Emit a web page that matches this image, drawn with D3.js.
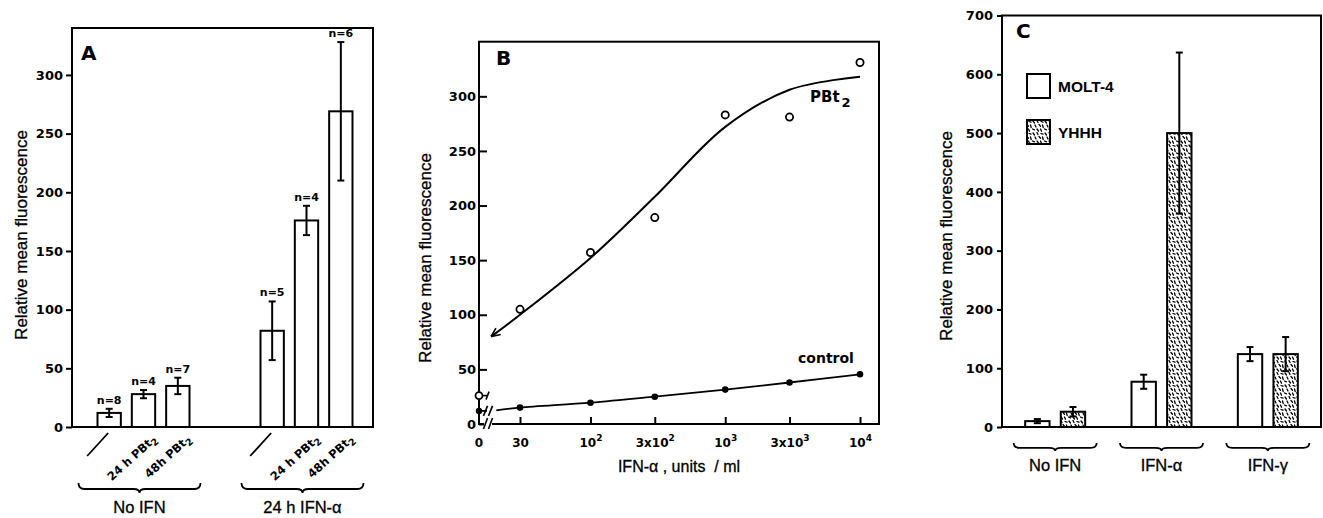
<!DOCTYPE html>
<html>
<head>
<meta charset="utf-8">
<script src="https://cdn.jsdelivr.net/npm/d3@7"></script>
<style>
  body { margin: 0; background: #fff; }
  svg { display: block; }
</style>
</head>
<body>
<div id="chart"></div>
<script>
// ---- panel A: bars, two groups of three treatments
const aGroups = ["No IFN", "24 h IFN-α"];
const aTreatments = ["none", "24 h PBt", "48h PBt"];
const aMeans = [[12, 28, 35], [82, 176, 269]];
const aErrors = [[3.5, 3.5, 7], [25, 12.5, 59]];
const aCounts = [[8, 4, 7], [5, 4, 6]];
const aTicks = [0, 50, 100, 150, 200, 250, 300];

// ---- panel B: dose response, log x
const bDoses = [30, 100, 300, 1000, 3000, 10000];
const bPbt2 = [105, 157, 189, 283, 281, 331];
const bControl = [15, 19.5, 25, 31.5, 38, 45.5];
const bZeroPbt2 = 26;
const bZeroControl = 12;
// hand drawn fit through PBt2 points
const bFitDoses = [18.3, 30, 100, 300, 1000, 3000, 10000];
const bFitPbt2 = [80, 100, 152, 208, 272, 306, 318];
const bControlDoses = [20, 30, 100, 300, 1000, 3000, 10000];
const bControlLine = [12.5, 15, 19.5, 25, 31.5, 38, 45.5];
const bTicks = [0, 50, 100, 150, 200, 250, 300];
const bTickBase = ["30", "10", "3x10", "10", "3x10", "10"];
const bTickExp = ["", "2", "2", "3", "3", "4"];

// ---- panel C: grouped bars
const cGroups = ["No IFN", "IFN-α", "IFN-γ"];
const cCells = ["MOLT-4", "YHHH"];
const cMeans = [[10, 26], [77, 500], [124, 124]];
const cErrors = [[3.5, 8], [12, 137], [12, 29]];
const cTicks = [0, 100, 200, 300, 400, 500, 600, 700];

const W = 1323, H = 518;
const tickFont = "'DejaVu Sans', sans-serif";
const textFont = "'Liberation Sans', Arial, sans-serif";

const svg = d3.select("#chart").append("svg")
    .attr("width", W).attr("height", H)
    .attr("font-family", textFont);

const defs = svg.append("defs");
const pat = defs.append("pattern")
    .attr("id", "stipple")
    .attr("width", 12).attr("height", 12)
    .attr("patternUnits", "userSpaceOnUse");
pat.append("rect").attr("width", 12).attr("height", 12).attr("fill", "#fff");
[[1,1,2.5,3],[5,0.5,6,2.5],[9,1.5,11,2.2],[3,5,4,7],[7,4.5,8.5,6.2],
 [10.5,5,11.2,7.5],[0.5,9,2.5,9.8],[5,9,6.5,11],[8.5,9,9.5,11.2]].forEach(d => {
    pat.append("line")
        .attr("x1", d[0]).attr("y1", d[1]).attr("x2", d[2]).attr("y2", d[3])
        .attr("stroke", "#000").attr("stroke-width", 1.3).attr("stroke-linecap", "round");
});

defs.append("marker")
    .attr("id", "arrow")
    .attr("viewBox", "0 0 10 10")
    .attr("refX", 10).attr("refY", 5)
    .attr("markerWidth", 10).attr("markerHeight", 10)
    .attr("markerUnits", "userSpaceOnUse")
    .attr("orient", "auto-start-reverse")
    .append("path")
    .attr("d", "M1,1 L10,5 L1,9")
    .attr("fill", "none").attr("stroke", "#000").attr("stroke-width", 1.6);

function frame(x0, y0, x1, y1) {
    svg.append("rect")
        .attr("x", x0).attr("y", y0)
        .attr("width", x1 - x0).attr("height", y1 - y0)
        .attr("fill", "none").attr("stroke", "#000").attr("stroke-width", 2);
}

// horizontal curly brace, opening up
function brace(cx, half, y0, h) {
    const x0 = cx - half, x1 = cx + half, ym = y0 + h * 0.6, r = 6;
    svg.append("path")
        .attr("d", `M${x0},${y0} Q${x0},${ym} ${x0 + r},${ym} L${cx - r},${ym} Q${cx},${ym} ${cx},${y0 + h}` +
                   ` Q${cx},${ym} ${cx + r},${ym} L${x1 - r},${ym} Q${x1},${ym} ${x1},${y0}`)
        .attr("fill", "none").attr("stroke", "#000").attr("stroke-width", 1.8);
}

function styleAxis(g, size) {
    g.select(".domain").remove();
    g.selectAll(".tick line").attr("stroke", "#000").attr("stroke-width", 2);
    g.selectAll(".tick text")
        .attr("font-family", tickFont).attr("font-weight", "bold")
        .attr("font-size", size).attr("fill", "#000");
}

function yTitle(x, y) {
    svg.append("text")
        .attr("transform", `translate(${x},${y}) rotate(-90)`)
        .attr("text-anchor", "middle")
        .attr("font-size", 17)
        .attr("stroke", "#000").attr("stroke-width", 0.3)
        .text("Relative mean fluorescence");
}

function panelLetter(x, y, s) {
    svg.append("text").attr("x", x).attr("y", y)
        .attr("font-family", tickFont).attr("font-weight", "bold")
        .attr("font-size", 20).text(s);
}

function errBar(cx, yTop, yBot, cap) {
    svg.append("line").attr("x1", cx).attr("x2", cx).attr("y1", yTop).attr("y2", yBot)
        .attr("stroke", "#000").attr("stroke-width", 2);
    [yTop, yBot].forEach(y => svg.append("line")
        .attr("x1", cx - cap / 2).attr("x2", cx + cap / 2).attr("y1", y).attr("y2", y)
        .attr("stroke", "#000").attr("stroke-width", 2));
}

// ================= Panel A =================
const aY = d3.scaleLinear().domain([0, 340]).range([427, 28]);
const aX0 = d3.scaleBand().domain(aGroups).range([62, 388]);
const aX1 = d3.scaleBand().domain(aTreatments)
    .range([aX0.bandwidth() / 2 - 46, aX0.bandwidth() / 2 + 46])
    .paddingInner(0.32);

aGroups.forEach((g, gi) => {
    aTreatments.forEach((t, ti) => {
        const m = aMeans[gi][ti], e = aErrors[gi][ti];
        const x = aX0(g) + aX1(t), w = aX1.bandwidth(), cx = x + w / 2;
        svg.append("rect")
            .attr("x", x).attr("y", aY(m))
            .attr("width", w).attr("height", aY(0) - aY(m))
            .attr("fill", "#fff").attr("stroke", "#000").attr("stroke-width", 2);
        errBar(cx, aY(m + e), aY(m - e), 7);
        svg.append("text")
            .attr("x", cx).attr("y", aY(m + e) - 5)
            .attr("text-anchor", "middle")
            .attr("font-family", tickFont).attr("font-weight", "bold")
            .attr("font-size", 11)
            .text("n=" + aCounts[gi][ti]);
        // slanted category labels
        if (ti === 0) {
            svg.append("line")
                .attr("x1", cx - 22).attr("y1", 456).attr("x2", cx - 1).attr("y2", 433)
                .attr("stroke", "#000").attr("stroke-width", 1.8);
        } else {
            const lab = svg.append("text")
                .attr("transform", `translate(${cx + 14},${440}) rotate(-42)`)
                .attr("text-anchor", "end")
                .attr("font-family", tickFont).attr("font-weight", "bold")
                .attr("font-size", 11.5);
            lab.append("tspan").text(t);
            lab.append("tspan").attr("dy", 3).attr("font-size", 9.5).text("2");
        }
    });
    const gc = aX0(g) + aX0.bandwidth() / 2;
    brace(gc - 4, 61, 483, 10);
    svg.append("text").attr("x", gc - 4).attr("y", 513)
        .attr("text-anchor", "middle").attr("font-size", 16.5)
        .attr("stroke", "#000").attr("stroke-width", 0.3)
        .text(g);
});

frame(72, aY.range()[1], 373, aY(0));
svg.append("g").attr("transform", "translate(72,0)")
    .call(d3.axisLeft(aY).tickValues(aTicks).tickSize(6).tickPadding(3))
    .call(g => styleAxis(g, 13));
yTitle(26.5, 235);
panelLetter(81, 60, "A");

// ================= Panel B =================
const bLeft = 479, bRight = 879;
const bX = d3.scaleLog().domain([30, 10000]).range([520, 860]);
const bY = d3.scaleLinear().domain([0, 350]).range([424, 41.7]);

frame(bLeft, bY.range()[1], bRight, bY(0));

const bx = svg.append("g").attr("transform", `translate(0,${bY(0)})`)
    .call(d3.axisBottom(bX).tickValues(bDoses).tickSize(-7).tickPadding(14));
styleAxis(bx, 12);
bx.selectAll(".tick text").each(function (d, i) {
    const t = d3.select(this).text(null);
    t.append("tspan").text(bTickBase[i]);
    if (bTickExp[i]) t.append("tspan").attr("dy", -6).attr("font-size", 9).text(bTickExp[i]);
});
svg.append("text").attr("x", bLeft).attr("y", 447)
    .attr("text-anchor", "middle")
    .attr("font-family", tickFont).attr("font-weight", "bold").attr("font-size", 12)
    .text("0");

const by = svg.append("g").attr("transform", `translate(${bLeft},0)`)
    .call(d3.axisLeft(bY).tickValues(bTicks).tickSize(-8).tickPadding(3));
styleAxis(by, 13);

// axis break on the x axis
svg.append("rect").attr("x", 484).attr("y", bY(0) - 3).attr("width", 8).attr("height", 6).attr("fill", "#fff");
[485.5, 490.5].forEach(x => svg.append("line")
    .attr("x1", x - 2).attr("y1", bY(0) + 5).attr("x2", x + 2).attr("y2", bY(0) - 6)
    .attr("stroke", "#000").attr("stroke-width", 1.6));

const lineB = d3.line()
    .x(d => bX(d[0])).y(d => bY(d[1]))
    .curve(d3.curveCatmullRom.alpha(0.5));

svg.append("path")
    .datum(bFitDoses.map((d, i) => [d, bFitPbt2[i]]))
    .attr("d", lineB)
    .attr("fill", "none").attr("stroke", "#000").attr("stroke-width", 2)
    .attr("marker-start", "url(#arrow)");

svg.append("path")
    .datum(bControlDoses.map((d, i) => [d, bControlLine[i]]))
    .attr("d", lineB)
    .attr("fill", "none").attr("stroke", "#000").attr("stroke-width", 1.8);

// zero dose points with break marks
svg.append("line").attr("x1", bLeft).attr("x2", bLeft + 8)
    .attr("y1", bY(bZeroControl)).attr("y2", bY(bZeroControl))
    .attr("stroke", "#000").attr("stroke-width", 1.8);
[485.5, 490.5].forEach(x => svg.append("line")
    .attr("x1", x - 2).attr("y1", bY(bZeroControl) + 5).attr("x2", x + 2).attr("y2", bY(bZeroControl) - 5)
    .attr("stroke", "#000").attr("stroke-width", 1.6));
svg.append("line").attr("x1", bLeft + 3).attr("x2", bLeft + 9)
    .attr("y1", bY(bZeroPbt2)).attr("y2", bY(bZeroPbt2))
    .attr("stroke", "#000").attr("stroke-width", 1.6);
svg.append("line").attr("x1", bLeft + 7).attr("x2", bLeft + 10)
    .attr("y1", bY(bZeroPbt2) + 4).attr("y2", bY(bZeroPbt2) - 4)
    .attr("stroke", "#000").attr("stroke-width", 1.6);

svg.append("circle").attr("cx", bLeft).attr("cy", bY(bZeroPbt2)).attr("r", 3.5)
    .attr("fill", "#fff").attr("stroke", "#000").attr("stroke-width", 1.8);
svg.append("circle").attr("cx", bLeft).attr("cy", bY(bZeroControl)).attr("r", 3.2).attr("fill", "#000");

svg.selectAll(".pbt2").data(bDoses).enter().append("circle")
    .attr("cx", d => bX(d)).attr("cy", (d, i) => bY(bPbt2[i])).attr("r", 3.6)
    .attr("fill", "#fff").attr("stroke", "#000").attr("stroke-width", 1.8);
svg.selectAll(".ctrl").data(bDoses).enter().append("circle")
    .attr("cx", d => bX(d)).attr("cy", (d, i) => bY(bControl[i])).attr("r", 3.3)
    .attr("fill", "#000");

const pl = svg.append("text").attr("x", 810).attr("y", 101.5)
    .attr("font-family", tickFont).attr("font-weight", "bold").attr("font-size", 15);
pl.append("tspan").text("PBt");
pl.append("tspan").attr("dx", 2).attr("dy", 5).attr("font-size", 13).text("2");
svg.append("text").attr("x", 798).attr("y", 363)
    .attr("font-family", tickFont).attr("font-weight", "bold").attr("font-size", 14)
    .text("control");

svg.append("text").attr("x", 679).attr("y", 471.5)
    .attr("text-anchor", "middle").attr("font-size", 16)
    .attr("stroke", "#000").attr("stroke-width", 0.3)
    .attr("xml:space", "preserve")
    .text("IFN-α , units  / ml");
yTitle(430.5, 258);
panelLetter(496, 65, "B");

// ================= Panel C =================
const cY = d3.scaleLinear().domain([0, 700]).range([427, 15.5]);
const cX0 = d3.scaleBand().domain(cGroups).range([1002, 1321]);
const cX1 = d3.scaleBand().domain(cCells)
    .range([cX0.bandwidth() / 2 - 30, cX0.bandwidth() / 2 + 30])
    .paddingInner(0.315);
const cFill = {"MOLT-4": "#fff", "YHHH": "url(#stipple)"};

cGroups.forEach((g, gi) => {
    cCells.forEach((c, ci) => {
        const m = cMeans[gi][ci], e = cErrors[gi][ci];
        const x = cX0(g) + cX1(c), w = cX1.bandwidth(), cx = x + w / 2;
        svg.append("rect")
            .attr("x", x).attr("y", cY(m))
            .attr("width", w).attr("height", cY(0) - cY(m))
            .attr("fill", cFill[c]).attr("stroke", "#000").attr("stroke-width", 2);
        errBar(cx, cY(m + e), cY(m - e), 7);
    });
    const gc = cX0(g) + cX0.bandwidth() / 2;
    brace(gc, 41.5, 443, 8);
    svg.append("text").attr("x", gc).attr("y", 471)
        .attr("text-anchor", "middle").attr("font-size", 16.5)
        .attr("stroke", "#000").attr("stroke-width", 0.3)
        .text(g);
});

frame(1002, cY(700), 1321, cY(0));
svg.append("g").attr("transform", "translate(1002,0)")
    .call(d3.axisLeft(cY).tickValues(cTicks).tickSize(5).tickPadding(4))
    .call(g => styleAxis(g, 13));

cCells.forEach((c, i) => {
    const ly = 74 + i * 46;
    svg.append("rect").attr("x", 1027).attr("y", ly).attr("width", 23).attr("height", 24)
        .attr("fill", cFill[c]).attr("stroke", "#000").attr("stroke-width", 2);
    svg.append("text").attr("x", 1058).attr("y", ly + 18)
        .attr("font-size", 15.5).attr("font-weight", "bold")
        .text(c);
});

yTitle(951.5, 236);
panelLetter(1016, 38, "C");
</script>
</body>
</html>
